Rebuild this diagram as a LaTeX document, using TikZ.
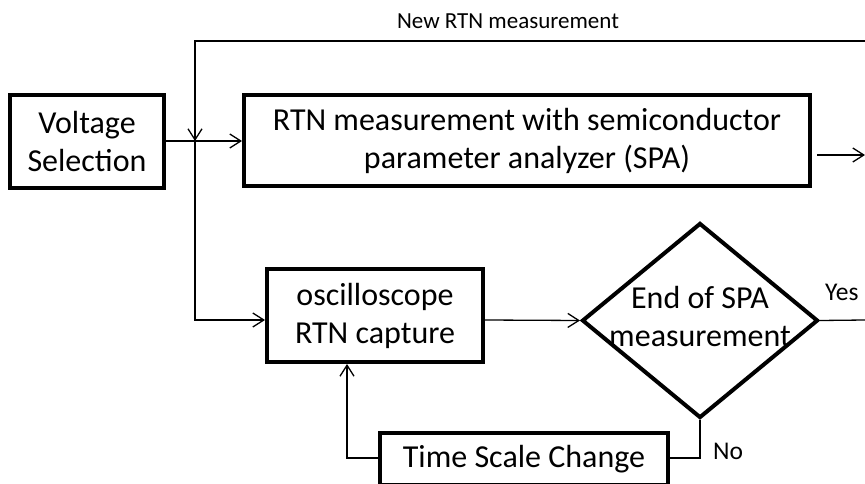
\documentclass[tikz,border=0pt]{standalone}
\usepackage{fontspec}
\setmainfont{Carlito}
\usetikzlibrary{arrows.meta,shapes.geometric}
\begin{document}
\begin{tikzpicture}[x=1pt,y=-1pt,
  box/.style={draw,line width=4pt,inner sep=0pt,align=center,font=\fontsize{32}{38}\selectfont},
  dia/.style={draw,diamond,line width=4pt,inner sep=0pt,minimum width=236pt,minimum height=195pt},
  small/.style={font=\fontsize{23}{27}\selectfont,inner sep=0pt},
  yn/.style={font=\fontsize{25.5}{30}\selectfont,inner sep=0pt},
  ln/.style={line width=1.3pt},
  arr/.style={ln,-{Straight Barb[length=11pt,width=14pt,line width=1.3pt]}}]
\useasboundingbox (0,0) rectangle (865,484);
\clip (0,0) rectangle (865,484);
\node[box,minimum width=154pt,minimum height=93pt] (vs) at (87,141.5) {Voltage\\Selection};
\node[box,minimum width=566pt,minimum height=91pt] (rtn) at (527,140.5) {RTN measurement with semiconductor\\parameter analyzer (SPA)};
\node[box,minimum width=216pt,minimum height=93pt] (osc) at (375,315.5) {oscilloscope\\RTN capture};
\node[dia,label={[font=\fontsize{32}{38}\selectfont,align=center,yshift=4pt]center:End of SPA\\measurement}] (d) at (700,320.5) {};
\node[box,minimum width=288pt,minimum height=52pt] (ts) at (524,459) {Time Scale Change};
\coordinate (j) at (195,141);
\coordinate (jt) at (195,41);
\coordinate (rt) at (865,41);
\coordinate (jo) at (195,320);
\coordinate (ra) at (817,155);
\coordinate (rb) at (865,155);
\coordinate (ye) at (865,320);
\coordinate (nc) at (700,458);
\coordinate (fc) at (347,458);
\draw[ln] (vs.east |- j) -- (j);
\draw[arr] (j) -- (j -| rtn.west);
\draw[arr] (rt) -- (jt) -- (j);
\draw[arr] (j) -- (jo) -- (jo -| osc.west);
\draw[arr] (osc.east |- jo) -- (d.west);
\draw[ln] (d.east) -- (ye);
\draw[arr] (ra) -- (rb);
\draw[ln] (d.south) -- (nc) -- (ts.east |- nc);
\draw[arr] (ts.west |- fc) -- (fc) -- (fc |- osc.south);
\node[small,anchor=base] (nrm) at (508,29) {New RTN measurement};
\node[yn,anchor=base west] (yes) at (825,300) {Yes};
\node[yn,anchor=base west] (no) at (713,459) {No};
\end{tikzpicture}
\end{document}
